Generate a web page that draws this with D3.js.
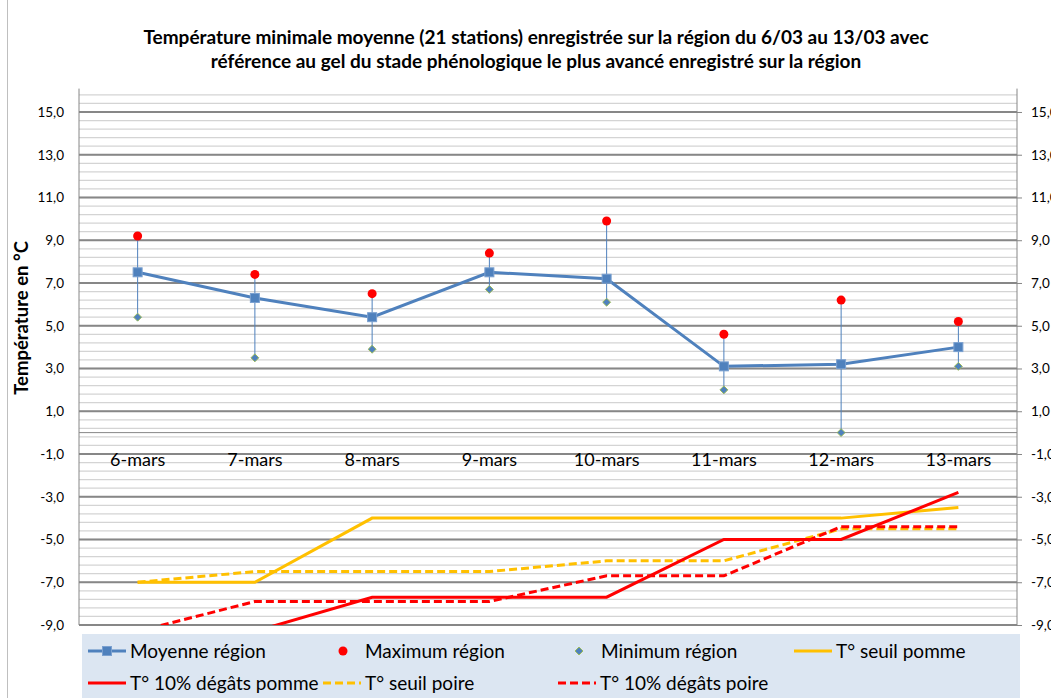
<!DOCTYPE html>
<html>
<head>
<meta charset="utf-8">
<script src="https://cdn.jsdelivr.net/npm/d3@7"></script>
<style>
  html, body { margin: 0; padding: 0; background: #fff; }
  svg { display: block; font-family: Lato, 'Liberation Sans', sans-serif; }
</style>
</head>
<body>
<div id="chart"></div>
<script>
// ================================
// Data
// ================================
const categories = ['6-mars', '7-mars', '8-mars', '9-mars', '10-mars', '11-mars', '12-mars', '13-mars'];
const moyenne = [7.5, 6.3, 5.4, 7.5, 7.2, 3.1, 3.2, 4.0];
const maximum = [9.2, 7.4, 6.5, 8.4, 9.9, 4.6, 6.2, 5.2];
const minimum = [5.4, 3.5, 3.9, 6.7, 6.1, 2.0, 0.0, 3.1];
const seuilPomme = [-7.0, -7.0, -4.0, -4.0, -4.0, -4.0, -4.0, -3.5];
const degatsPomme = [-10.0, -9.3, -7.7, -7.7, -7.7, -5.0, -5.0, -2.8];
const seuilPoire = [-7.0, -6.5, -6.5, -6.5, -6.0, -6.0, -4.5, -4.5];
const degatsPoire = [-9.3, -7.9, -7.9, -7.9, -6.7, -6.7, -4.4, -4.4];
const yTicks = [-9, -7, -5, -3, -1, 1, 3, 5, 7, 9, 11, 13, 15];

const titleLines = [
  'Température minimale moyenne (21 stations) enregistrée sur la région du 6/03 au 13/03 avec',
  'référence au gel du stade phénologique le plus avancé enregistré sur la région'
];

// ================================
// Layout
// ================================
const W = 1051, H = 698;
const plot = { left: 79, right: 1017, top: 90.6, bottom: 625 };

const svg = d3.select('#chart').append('svg')
  .attr('width', W)
  .attr('height', H);

svg.append('rect').attr('width', W).attr('height', H).attr('fill', '#fff');

// chart frame (left edge visible)
svg.append('line')
  .attr('x1', 7.5).attr('x2', 7.5).attr('y1', 0).attr('y2', H)
  .attr('stroke', '#bfbfbf').attr('stroke-width', 1);

const x = d3.scalePoint()
  .domain(categories)
  .range([plot.left, plot.right])
  .padding(0.5);

const y = d3.scaleLinear()
  .domain([-9, 16])
  .range([plot.bottom, plot.top]);

const locale = d3.formatLocale({ decimal: ',', thousands: ' ', grouping: [3], currency: ['', ' €'], minus: '-' });
const fmt = locale.format('.1f');

// ================================
// Grid
// ================================
const minorTicks = d3.range(-9, 16.01, 0.4).map(v => +v.toFixed(1));
svg.append('g')
  .selectAll('line')
  .data(minorTicks)
  .join('line')
  .attr('x1', plot.left).attr('x2', plot.right)
  .attr('y1', d => y(d)).attr('y2', d => y(d))
  .attr('stroke', '#d4d4d4')
  .attr('stroke-width', 1.3);

svg.append('g')
  .selectAll('line')
  .data(yTicks)
  .join('line')
  .attr('x1', plot.left).attr('x2', plot.right)
  .attr('y1', d => y(d)).attr('y2', d => y(d))
  .attr('stroke', '#878787')
  .attr('stroke-width', 2.2);

// horizontal category axis at 0
svg.append('line')
  .attr('x1', plot.left).attr('x2', plot.right)
  .attr('y1', y(0)).attr('y2', y(0))
  .attr('stroke', '#868686').attr('stroke-width', 1);

// vertical axes
const yAxisLeft = d3.axisLeft(y).tickValues(yTicks).tickSize(0).tickPadding(15).tickFormat(fmt);
const yAxisRight = d3.axisRight(y).tickValues(yTicks).tickSize(5).tickPadding(9).tickFormat(fmt);

[[yAxisLeft, plot.left], [yAxisRight, plot.right]].forEach(([ax, px]) => {
  const g = svg.append('g')
    .attr('transform', `translate(${px},0)`)
    .call(ax);
  g.select('.domain').remove();
  g.selectAll('line').attr('stroke', '#868686');
  g.selectAll('text')
    .attr('fill', '#000')
    .attr('font-size', '13.5px')
    .attr('font-family', 'Lato, sans-serif');
  g.append('line')
    .attr('x1', 0).attr('x2', 0)
    .attr('y1', plot.top - 2).attr('y2', plot.bottom)
    .attr('stroke', '#868686').attr('stroke-width', 1);
});

// category labels
svg.append('g')
  .selectAll('text')
  .data(categories)
  .join('text')
  .attr('x', d => x(d))
  .attr('y', y(0) + 27)
  .attr('dy', '0.35em')
  .attr('text-anchor', 'middle')
  .attr('font-size', '18px')
  .attr('fill', '#000')
  .text(d => d);

// ================================
// Series
// ================================
svg.append('clipPath').attr('id', 'plotClip')
  .append('rect')
  .attr('x', plot.left).attr('y', plot.top)
  .attr('width', plot.right - plot.left)
  .attr('height', plot.bottom - plot.top);

const series = svg.append('g').attr('clip-path', 'url(#plotClip)');

const line = d3.line()
  .x((d, i) => x(categories[i]))
  .y(d => y(d));

const thresholdSeries = [
  { values: seuilPomme, color: '#FFC000', dash: null },
  { values: seuilPoire, color: '#FFC000', dash: '8,4' },
  { values: degatsPoire, color: '#FF0000', dash: '8,4' },
  { values: degatsPomme, color: '#FF0000', dash: null }
];

thresholdSeries.forEach(s => {
  series.append('path')
    .datum(s.values)
    .attr('fill', 'none')
    .attr('stroke', s.color)
    .attr('stroke-width', 3)
    .attr('stroke-dasharray', s.dash)
    .attr('d', line);
});

// min-max range bars
series.append('g')
  .selectAll('line')
  .data(categories)
  .join('line')
  .attr('x1', d => x(d)).attr('x2', d => x(d))
  .attr('y1', (d, i) => y(minimum[i]))
  .attr('y2', (d, i) => y(maximum[i]))
  .attr('stroke', '#4F81BD')
  .attr('stroke-width', 1);

// mean line
series.append('path')
  .datum(moyenne)
  .attr('fill', 'none')
  .attr('stroke', '#4F81BD')
  .attr('stroke-width', 3)
  .attr('d', line);

// markers
series.append('g')
  .selectAll('rect')
  .data(moyenne)
  .join('rect')
  .attr('x', (d, i) => x(categories[i]) - 4.5)
  .attr('y', d => y(d) - 4.5)
  .attr('width', 9).attr('height', 9)
  .attr('fill', '#4F81BD')
  .attr('stroke', '#7AA0D0')
  .attr('stroke-width', 1);

series.append('g')
  .selectAll('circle')
  .data(maximum)
  .join('circle')
  .attr('cx', (d, i) => x(categories[i]))
  .attr('cy', d => y(d))
  .attr('r', 4.5)
  .attr('fill', '#FF0000');

const diamond = d3.symbol().type(d3.symbolDiamond2).size(40);
series.append('g')
  .selectAll('path')
  .data(minimum)
  .join('path')
  .attr('transform', (d, i) => `translate(${x(categories[i])},${y(d)})`)
  .attr('d', diamond)
  .attr('fill', '#4F81BD')
  .attr('stroke', '#9BBB59')
  .attr('stroke-width', 1);

// ================================
// Titles
// ================================
svg.append('g')
  .selectAll('text')
  .data(titleLines)
  .join('text')
  .attr('x', 536)
  .attr('y', (d, i) => 37 + i * 24)
  .attr('dy', '0.35em')
  .attr('text-anchor', 'middle')
  .attr('font-size', '19px')
  .attr('font-weight', 'bold')
  .attr('fill', '#000')
  .text(d => d);

svg.append('text')
  .attr('transform', 'rotate(-90)')
  .attr('x', -318)
  .attr('y', 22)
  .attr('dy', '0.35em')
  .attr('text-anchor', 'middle')
  .attr('font-size', '18.5px')
  .attr('font-weight', 'bold')
  .attr('fill', '#000')
  .text('Température en °C');

// ================================
// Legend
// ================================
const legend = svg.append('g');
legend.append('rect')
  .attr('x', 82).attr('y', 634)
  .attr('width', 938).attr('height', 64)
  .attr('fill', '#DCE6F2');

const legendItems = [
  { label: 'Moyenne région', type: 'mean', x: 88, row: 0 },
  { label: 'Maximum région', type: 'max', x: 327, row: 0 },
  { label: 'Minimum région', type: 'min', x: 563, row: 0 },
  { label: 'T° seuil pomme', type: 'line', color: '#FFC000', dash: null, x: 794, row: 0 },
  { label: 'T° 10% dégâts pomme', type: 'line', color: '#FF0000', dash: null, x: 88, row: 1 },
  { label: 'T° seuil poire', type: 'line', color: '#FFC000', dash: '8,4', x: 323, row: 1 },
  { label: 'T° 10% dégâts poire', type: 'line', color: '#FF0000', dash: '8,4', x: 558, row: 1 }
];

legendItems.forEach(item => {
  const cy = item.row === 0 ? 651 : 683;
  const g = legend.append('g');
  if (item.type === 'mean' || item.type === 'line') {
    g.append('line')
      .attr('x1', item.x).attr('x2', item.x + 38)
      .attr('y1', cy).attr('y2', cy)
      .attr('stroke', item.color || '#4F81BD')
      .attr('stroke-width', 3)
      .attr('stroke-dasharray', item.dash);
  }
  if (item.type === 'mean') {
    g.append('rect')
      .attr('x', item.x + 19 - 4.5).attr('y', cy - 4.5)
      .attr('width', 9).attr('height', 9)
      .attr('fill', '#4F81BD').attr('stroke', '#7AA0D0');
  } else if (item.type === 'max') {
    g.append('circle')
      .attr('cx', item.x + 16).attr('cy', cy).attr('r', 4.5)
      .attr('fill', '#FF0000');
  } else if (item.type === 'min') {
    g.append('path')
      .attr('transform', `translate(${item.x + 16},${cy})`)
      .attr('d', diamond)
      .attr('fill', '#4F81BD').attr('stroke', '#9BBB59');
  }
  const textX = item.type === 'max' || item.type === 'min' ? item.x + 38 : item.x + 42;
  g.append('text')
    .attr('x', textX)
    .attr('y', cy)
    .attr('dy', '0.35em')
    .attr('font-size', '19px')
    .attr('fill', '#000')
    .text(item.label);
});
</script>
</body>
</html>
